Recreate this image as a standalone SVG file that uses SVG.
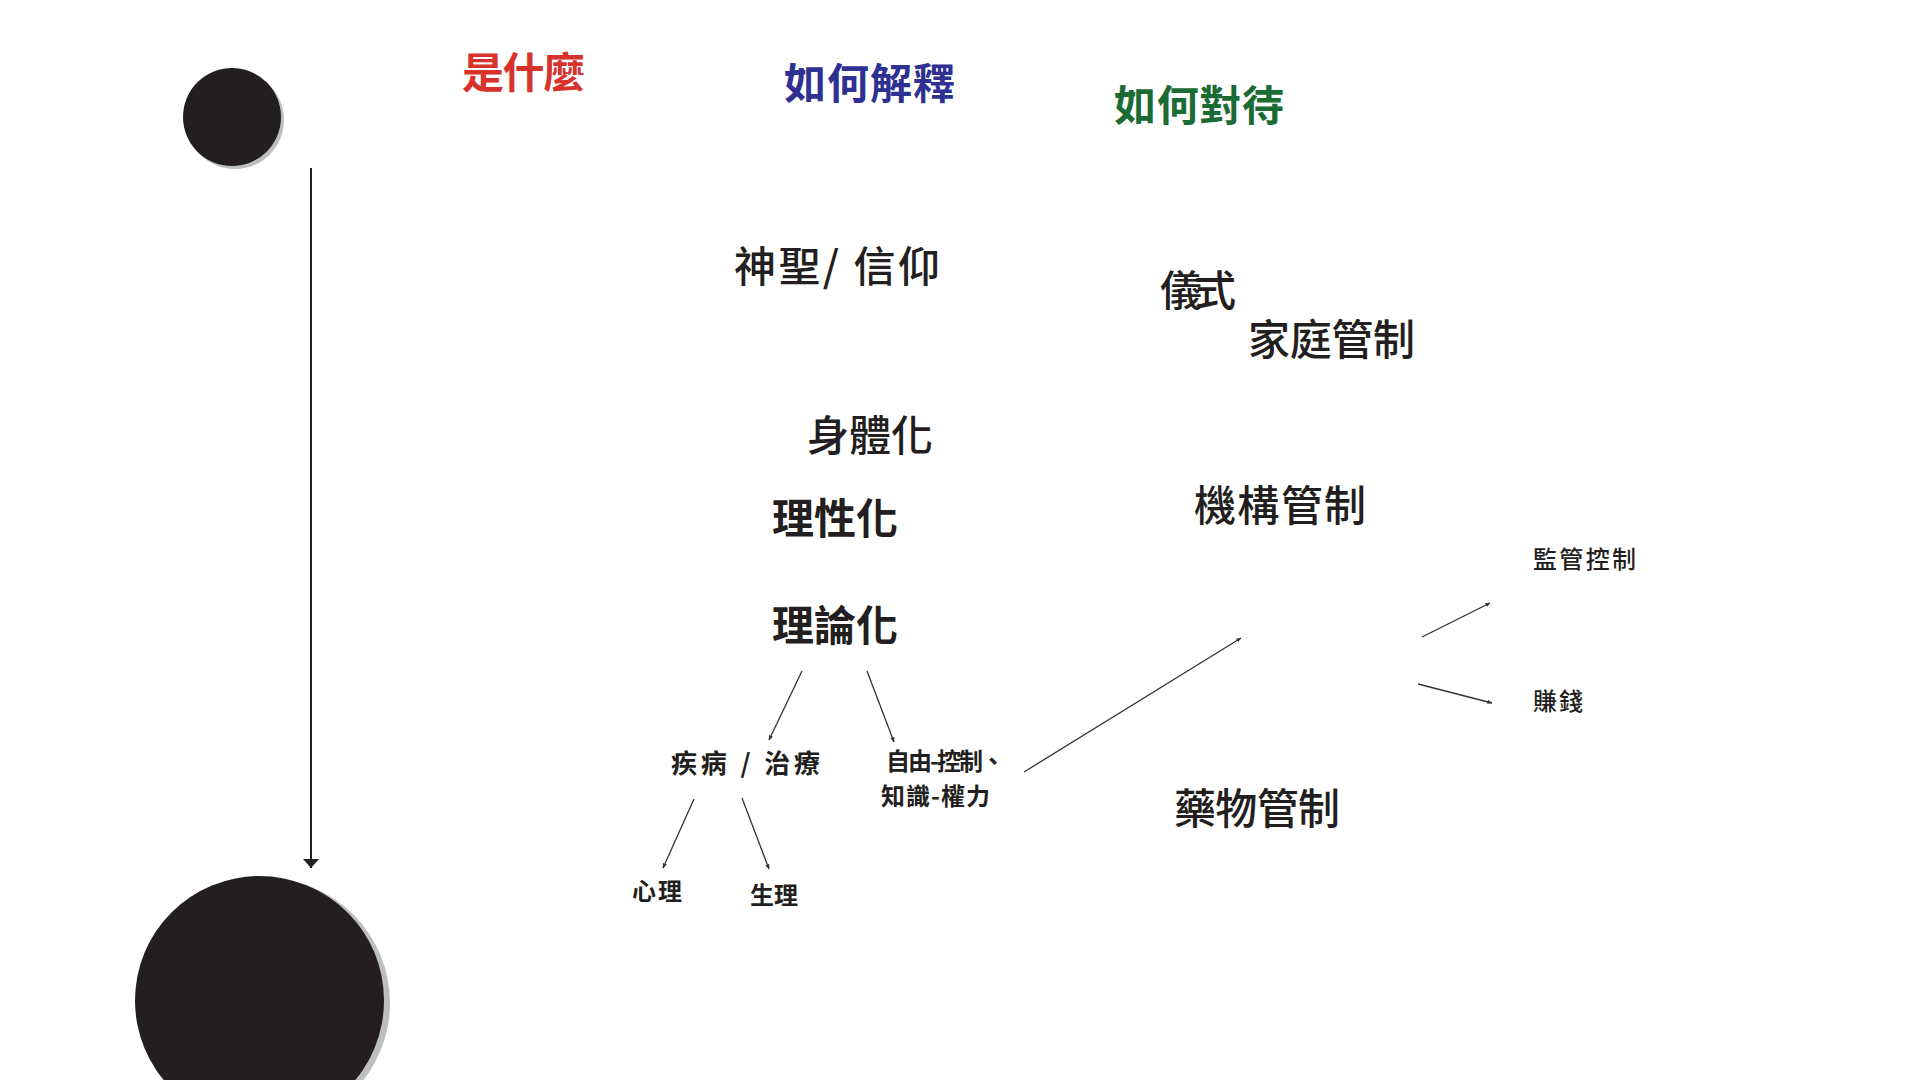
<svg xmlns="http://www.w3.org/2000/svg" width="1920" height="1080" viewBox="0 0 1920 1080">
<style>
text{font-family:"Noto Sans CJK TC","Noto Sans CJK SC",sans-serif;fill:#231f20;dominant-baseline:central}
.h{font-size:42px;font-weight:700}
.m{font-size:42px;font-weight:500}
.s{font-size:24px;font-weight:700}
.c{stroke:#333;stroke-width:1.3;fill:none;marker-end:url(#sm)}
</style>
<defs>
<marker id="sm" viewBox="0 0 10 10" refX="9" refY="5" markerWidth="4" markerHeight="4" orient="auto" markerUnits="strokeWidth">
<path d="M0,1 L10,5 L0,9 z" fill="#333"/>
</marker>
<marker id="big" viewBox="0 0 10 18" refX="10" refY="9" markerWidth="4.5" markerHeight="8.5" orient="auto" markerUnits="strokeWidth">
<path d="M0,0 L10,9 L0,18 z" fill="#231f20"/>
</marker>
</defs>
<rect width="1920" height="1080" fill="#fff"/>
<g id="circle-top">
<circle cx="235" cy="120" r="49" fill="#bcbec0"/>
<circle cx="232" cy="117" r="49" fill="#231f20"/>
</g>
<g id="circle-bottom">
<circle cx="265" cy="1003" r="125" fill="#bcbec0"/>
<circle cx="259.5" cy="1000.5" r="124.5" fill="#231f20"/>
</g>
<g id="title-what"><text class="h" x="462" y="69" style="fill:#d7322b" textLength="123">是什麼</text></g>
<g id="title-explain"><text class="h" x="784" y="80" style="fill:#2e3192" textLength="171">如何解釋</text></g>
<g id="title-treat"><text class="h" x="1114" y="102" style="fill:#1b6b35" textLength="170">如何對待</text></g>
<g id="node-sacred"><text class="m" x="734" y="263" textLength="206">神聖/ 信仰</text></g>
<g id="node-ritual"><text class="m" x="1160" y="287" textLength="76">儀式</text></g>
<g id="node-family"><text class="m" x="1248" y="336" textLength="167">家庭管制</text></g>
<g id="node-body"><text class="m" x="807" y="432" textLength="126">身體化</text></g>
<g id="node-rational"><text class="h" x="772" y="515" textLength="126">理性化</text></g>
<g id="node-institution"><text class="m" x="1194" y="502" textLength="172">機構管制</text></g>
<g id="node-theory"><text class="h" x="772" y="622" textLength="126">理論化</text></g>
<g id="node-monitor"><text class="s" x="1533" y="557" textLength="103" style="font-weight:500">監管控制</text></g>
<g id="node-money"><text class="s" x="1533" y="699" textLength="50" style="font-weight:500">賺錢</text></g>
<g id="node-disease"><text class="s" x="671" y="761" textLength="149" style="font-size:26px">疾病 / 治療</text></g>
<g id="node-freedom">
<text class="s" x="886" y="759" textLength="119">自由-控制、</text>
<text class="s" x="881" y="794" textLength="109">知識-權力</text>
</g>
<g id="node-drug"><text class="m" x="1174" y="805" textLength="166">藥物管制</text></g>
<g id="node-psych"><text class="s" x="632" y="889" textLength="50">心理</text></g>
<g id="node-physio"><text class="s" x="750" y="893" textLength="48">生理</text></g>
<g id="connectors">
<line x1="311" y1="168" x2="311" y2="868" stroke="#231f20" stroke-width="2" marker-end="url(#big)"/>
<line class="c" x1="802" y1="671" x2="769" y2="740"/>
<line class="c" x1="867" y1="671" x2="894" y2="742"/>
<line class="c" x1="694" y1="799" x2="663" y2="868"/>
<line class="c" x1="742" y1="798" x2="769" y2="869"/>
<line class="c" x1="1024" y1="772" x2="1241" y2="638"/>
<line class="c" x1="1422" y1="637" x2="1490" y2="603"/>
<line class="c" x1="1418" y1="684" x2="1492" y2="703"/>
</g>
</svg>
